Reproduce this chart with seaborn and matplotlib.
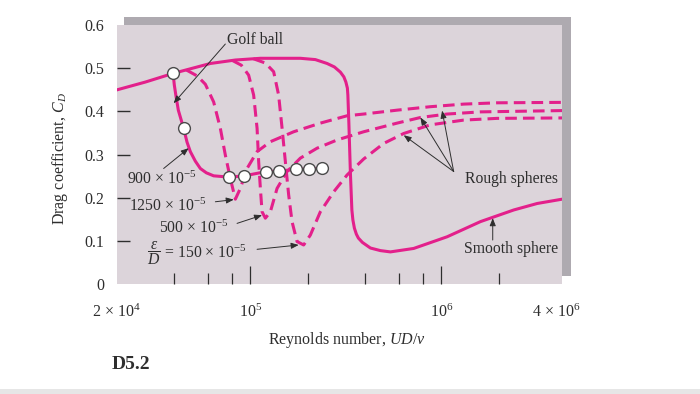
import matplotlib
matplotlib.use('Agg')
import matplotlib.pyplot as plt
import seaborn as sns
from matplotlib.patches import Rectangle
from matplotlib.ticker import FixedLocator, NullFormatter

# smooth sphere
smooth_re = [20080, 28240, 39440, 61830, 83580, 113000, 183000, 219200, 252500, 275700,
             296400, 309100, 316700, 322500, 324400, 328300, 334400, 340400, 344600, 350900,
             359400, 368200, 386400, 425600, 480100, 541500, 717200, 1073000, 1602000, 2394000,
             3175000, 4291000]
smooth_cd = [0.450, 0.468, 0.488, 0.511, 0.519, 0.523, 0.523, 0.520, 0.511, 0.503,
             0.491, 0.480, 0.468, 0.454, 0.438, 0.373, 0.258, 0.172, 0.149, 0.130,
             0.116, 0.107, 0.097, 0.084, 0.078, 0.075, 0.083, 0.110, 0.145, 0.172,
             0.187, 0.197]

# golf ball
golf_re = [39440, 40060, 40790, 42030, 44810, 46690, 48590, 51600, 54810, 58920,
           64350, 77770, 93150, 121400, 140800, 173700, 203900, 237700]
golf_cd = [0.489, 0.461, 0.438, 0.403, 0.361, 0.329, 0.307, 0.285, 0.268, 0.258,
           0.251, 0.248, 0.251, 0.261, 0.262, 0.266, 0.267, 0.269]
golf_pts_re = [39440, 44810, 77770, 93150, 121400, 140800, 173700, 203900, 237700]
golf_pts_cd = [0.489, 0.361, 0.248, 0.251, 0.261, 0.262, 0.266, 0.267, 0.269]

# rough spheres, eps/D = 1250e-5, 500e-5, 150e-5
rough1_re = [46300, 52850, 58210, 64350, 69750, 74080, 78680, 83580, 88780, 96230,
             108600, 127500, 168800, 232900, 321300, 392500, 587000, 877000, 1310000, 1960000, 4291000]
rough1_cd = [0.496, 0.482, 0.463, 0.422, 0.361, 0.299, 0.245, 0.197, 0.222, 0.268,
             0.307, 0.330, 0.353, 0.373, 0.390, 0.394, 0.403, 0.411, 0.417, 0.420, 0.421]
rough2_re = [80610, 89860, 98100, 104200, 108600, 110700, 113000, 115300, 120000, 127500,
             138200, 155900, 183000, 223800, 284800, 392500, 587000, 777700, 1073000, 1602000, 4291000]
rough2_cd = [0.518, 0.507, 0.484, 0.438, 0.361, 0.284, 0.222, 0.168, 0.153, 0.168,
             0.222, 0.261, 0.292, 0.315, 0.334, 0.353, 0.373, 0.386, 0.394, 0.399, 0.402]
rough3_re = [103800, 120000, 132600, 140800, 146800, 152700, 158900, 165500, 175800, 190400,
             206400, 232900, 273400, 321300, 392500, 499500, 635800, 877000, 1310000, 1960000, 4291000]
rough3_cd = [0.522, 0.512, 0.492, 0.438, 0.361, 0.284, 0.207, 0.145, 0.099, 0.091,
             0.114, 0.168, 0.214, 0.253, 0.290, 0.326, 0.349, 0.369, 0.380, 0.384, 0.385]

xtick_vals = [2e4, 1e5, 1e6, 4e6]
xtick_labels = [r'2 $\times$ $10^4$', r'$10^5$', r'$10^6$', r'4 $\times$ $10^6$']
xminor_vals = [4e4, 6e4, 8e4, 2e5, 4e5, 6e5, 8e5, 2e6]
ytick_vals = [0, 0.1, 0.2, 0.3, 0.4, 0.5, 0.6]
ytick_labels = ['0', '0.1', '0.2', '0.3', '0.4', '0.5', '0.6']

plt.rcParams['font.family'] = ['Liberation Serif', 'DejaVu Serif']
plt.rcParams['mathtext.fontset'] = 'custom'
plt.rcParams['mathtext.rm'] = 'Liberation Serif'
plt.rcParams['mathtext.it'] = 'Liberation Serif:italic'
plt.rcParams['mathtext.bf'] = 'Liberation Serif:bold'

PINK = '#e3208b'
BOX = '#dcd4da'
SHADOW = '#aeaab0'
INK = '#2e2e2e'
DASH = (0, (3.8, 2.0))
LW = 2.2

fig = plt.figure(figsize=(7, 3.94), dpi=100)
fig.patches.append(Rectangle((0.1776, 0.2995), 0.6381, 0.6581, transform=fig.transFigure,
                             facecolor=SHADOW, edgecolor='none', zorder=-1))
fig.patches.append(Rectangle((0, 0), 1, 0.013, transform=fig.transFigure,
                             facecolor='#e6e6e6', edgecolor='none', zorder=-1))
ax = fig.add_axes([0.1667, 0.2784, 0.6366, 0.6581])
ax.set_facecolor(BOX)
for s in ax.spines.values():
    s.set_visible(False)

sns.lineplot(x=smooth_re, y=smooth_cd, ax=ax, color=PINK, lw=LW, sort=False, estimator=None)
sns.lineplot(x=golf_re, y=golf_cd, ax=ax, color=PINK, lw=LW, sort=False, estimator=None)
for rx, ry in [(rough1_re, rough1_cd), (rough2_re, rough2_cd), (rough3_re, rough3_cd)]:
    sns.lineplot(x=rx, y=ry, ax=ax, color=PINK, lw=LW, linestyle=DASH, sort=False, estimator=None)
sns.scatterplot(x=golf_pts_re, y=golf_pts_cd, ax=ax, s=72, color='white',
                edgecolor='#4a4a4a', linewidth=1.0, zorder=5)

ax.set_xscale('log')
ax.set_xlim(2e4, 4.3e6)
ax.set_ylim(0, 0.6)
ax.set_xlabel('')
ax.set_ylabel('')

ax.set_xticks(xtick_vals)
ax.set_xticklabels(xtick_labels)
ax.xaxis.set_minor_locator(FixedLocator(xminor_vals))
ax.xaxis.set_minor_formatter(NullFormatter())
ax.set_yticks(ytick_vals)
ax.set_yticklabels(ytick_labels)
ax.tick_params(axis='x', which='major', direction='in', length=12.7, width=0.9, color=INK,
               pad=14, labelsize=11.5, labelcolor=INK, bottom=True, top=False)
ax.tick_params(axis='x', which='minor', direction='in', length=8, width=0.9, color=INK,
               bottom=True, top=False)
ax.tick_params(axis='y', which='major', direction='in', length=9.6, width=1.0, color=INK,
               pad=9, labelsize=11.5, labelcolor=INK, left=True, right=False)
xt = ax.xaxis.get_major_ticks()
xt[0].tick1line.set_visible(False)
xt[-1].tick1line.set_visible(False)
yt = ax.yaxis.get_major_ticks()
yt[0].tick1line.set_visible(False)
yt[-1].tick1line.set_visible(False)

ARROW = dict(arrowstyle='-|>,head_length=0.45,head_width=0.18', color=INK, lw=0.7,
             shrinkA=0, shrinkB=0)
FS = 11.3

ax.text(1.064e5, 0.565, 'Golf ball', ha='center', va='center', fontsize=FS, color=INK)
ax.annotate('', xy=(39720, 0.419), xytext=(74080, 0.556), arrowprops=ARROW)

ax.text(22730, 0.244, r'900 $\times$ $10^{-5}$', ha='left', va='center', fontsize=FS, color=INK)
ax.annotate('', xy=(47610, 0.315), xytext=(35220, 0.268), arrowprops=ARROW)

ax.text(23090, 0.180, r'1250 $\times$ $10^{-5}$', ha='left', va='center', fontsize=FS, color=INK)
ax.annotate('', xy=(82000, 0.196), xytext=(65680, 0.191), arrowprops=ARROW)

ax.text(33160, 0.130, r'500 $\times$ $10^{-5}$', ha='left', va='center', fontsize=FS, color=INK)
ax.annotate('', xy=(115300, 0.160), xytext=(85310, 0.141), arrowprops=ARROW)

ax.text(28820, 0.072, r'$\dfrac{\epsilon}{D}$ = 150 $\times$ $10^{-5}$', ha='left', va='center',
        fontsize=FS, color=INK)
ax.annotate('', xy=(179300, 0.091), xytext=(108600, 0.081), arrowprops=ARROW)

ax.text(1.337e6, 0.243, 'Rough spheres', ha='left', va='center', fontsize=FS, color=INK)
for tip in [(635800, 0.345), (777700, 0.386), (1.010e6, 0.402)]:
    ax.annotate('', xy=tip, xytext=(1.161e6, 0.261), arrowprops=ARROW)

ax.text(1.310e6, 0.081, 'Smooth sphere', ha='left', va='center', fontsize=FS, color=INK)
ax.annotate('', xy=(1.859e6, 0.153), xytext=(1.859e6, 0.1025), arrowprops=ARROW)

fig.text(0.0857, 0.5964, r'Drag coefficient, $C_D$', rotation=90, ha='center', va='center',
         fontsize=11.5, color=INK)
fig.text(0.4964, 0.137, r'Reynolds number, $UD/\nu$', ha='center', va='center',
         fontsize=11.5, color=INK)
fig.text(0.1596, 0.074, 'D5.2', fontweight='bold', fontsize=14, ha='left', va='center', color=INK)

fig.savefig('out.png', dpi=100)
